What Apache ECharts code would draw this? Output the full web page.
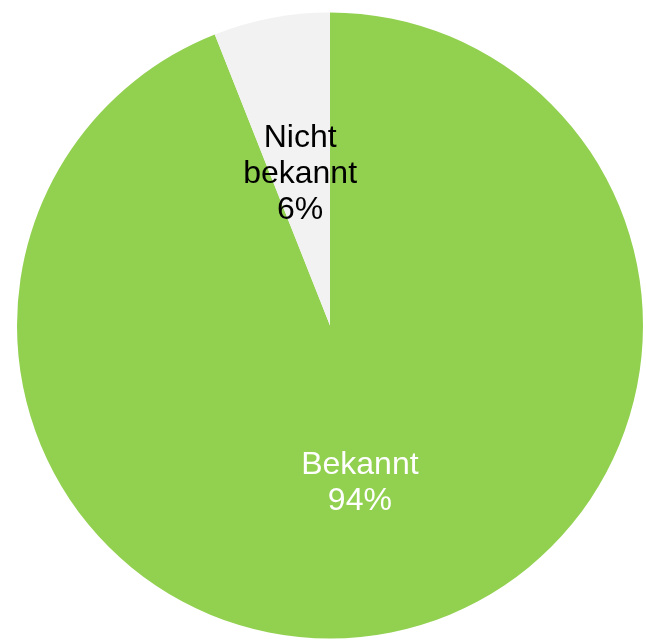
<!DOCTYPE html>
<html>
<head>
<meta charset="utf-8">
<script src="https://cdn.jsdelivr.net/npm/echarts@6/dist/echarts.min.js"></script>
<style>
  html, body { margin: 0; padding: 0; background: #ffffff; }
  #chart { width: 646px; height: 642px; }
</style>
</head>
<body>
<div id="chart"></div>
<script>
// Share of known vs. unknown cases (percent)
const categories = ['Bekannt', 'Nicht\nbekannt'];
const values = [94, 6];
const colors = ['#92D050', '#F2F2F2'];
const labelColors = ['#ffffff', '#000000'];
const labelOffsets = [[0, 1], [0, 5]];

const chart = echarts.init(document.getElementById('chart'));

chart.setOption({
  animation: false,
  series: [{
    type: 'pie',
    center: [330, 325.5],
    radius: [0, 313],
    startAngle: 90,
    clockwise: true,
    avoidLabelOverlap: false,
    label: {
      show: true,
      position: 'inside',
      fontFamily: 'Liberation Sans, Arial, sans-serif',
      fontSize: 32,
      lineHeight: 36,
      align: 'center',
      formatter: p => p.name + '\n' + p.value + '%'
    },
    labelLine: { show: false },
    emphasis: { disabled: true },
    data: categories.map((name, i) => ({
      name: name,
      value: values[i],
      itemStyle: { color: colors[i] },
      label: { color: labelColors[i], offset: labelOffsets[i] }
    }))
  }]
});
</script>
</body>
</html>
